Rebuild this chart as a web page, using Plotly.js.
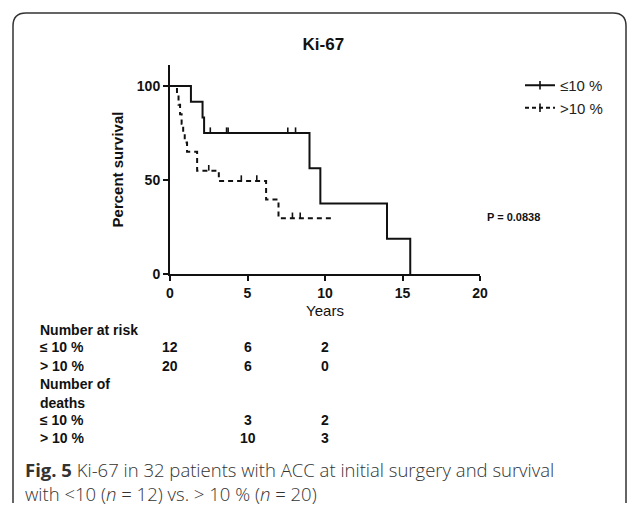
<!DOCTYPE html>
<html>
<head>
<meta charset="utf-8">
<script src="https://cdn.plot.ly/plotly-3.0.1.min.js"></script>
<style>
html,body{margin:0;padding:0;background:#fff;}
#chart{width:634px;height:512px;}
</style>
</head>
<body>
<div id="chart"></div>
<script>
// ---- data ----
const groupLabels = ['≤10 %', '>10 %'];
const lowTimes = [0, 1.35, 2.1, 2.2, 9.0, 9.7, 14.0, 15.5];
const lowSurv = [100, 91.7, 83.3, 75, 56.25, 37.5, 18.75, 0];
const lowCensorTimes = [2.6, 3.65, 3.75, 7.6, 8.1];
const lowCensorSurv = [75, 75, 75, 75, 75];
const highTimes = [0, 0.45, 0.55, 0.65, 0.75, 0.85, 0.95, 1.1, 1.75, 3.15, 6.2, 7.0, 10.6];
const highSurv = [100, 95, 90, 85, 80, 75, 70, 65, 55, 49.5, 39.6, 29.7, 29.7];
const highCensorTimes = [2.5, 4.6, 5.6, 7.9, 8.4];
const highCensorSurv = [55, 49.5, 49.5, 29.7, 29.7];
const xTicks = [0, 5, 10, 15, 20];
const yTicks = [0, 50, 100];
const riskTimes = [0, 5, 10];
const riskLow = [12, 6, 2];
const riskHigh = [20, 6, 0];
const deathTimes = [5, 10];
const deathsLow = [3, 2];
const deathsHigh = [10, 3];
const tableRowLabels = ['≤ 10 %', '> 10 %'];
const pValueText = 'P = 0.0838';
const captionLine1 = '<b>Fig. 5</b> Ki-67 in 32 patients with ACC at initial surgery and survival';
const captionLine2 = 'with &lt;10 (<i>n</i> = 12) vs. &gt; 10 % (<i>n</i> = 20)';

// ---- layout geometry (pixels) ----
const W = 634, H = 512;
const mL = 170, mR = 154, mT = 65, mB = 238;
const pw = W - mL - mR, ph = H - mT - mB;
const px = x => (x - mL) / pw;
const py = y => (H - mB - y) / ph;

const black = '#111';
const ARIAL = "Arial, 'Liberation Sans', Helvetica, sans-serif";
const tickFont = {family: ARIAL, size: 14, color: black, weight: 'bold'};
const censorLen = 3; // tick height in % units (style)

function censorTrace(t, s, grp) {
  return {x: t, y: s, type: 'scatter', mode: 'markers', marker: {size: 1, color: 'rgba(0,0,0,0)'},
    error_y: {type: 'data', symmetric: false, array: t.map(() => censorLen), arrayminus: t.map(() => 0),
              color: black, thickness: 1.6, width: 0},
    legendgroup: grp, showlegend: false, hoverinfo: 'skip'};
}

const traces = [
  {x: lowTimes, y: lowSurv, type: 'scatter', mode: 'lines', line: {shape: 'hv', color: black, width: 2},
   name: groupLabels[0], legendgroup: 'a', showlegend: false, hoverinfo: 'skip'},
  censorTrace(lowCensorTimes, lowCensorSurv, 'a'),
  {x: highTimes, y: highSurv, type: 'scatter', mode: 'lines', line: {shape: 'hv', color: black, width: 2, dash: '5px,4px'},
   name: groupLabels[1], legendgroup: 'b', showlegend: false, hoverinfo: 'skip'},
  censorTrace(highCensorTimes, highCensorSurv, 'b'),
  // legend entries
  {x: [null], y: [null], type: 'scatter', mode: 'lines+markers', name: groupLabels[0], legendgroup: 'a',
   line: {color: black, width: 2}, marker: {symbol: 'line-ns', size: 6, line: {color: black, width: 1.6}}},
  {x: [null], y: [null], type: 'scatter', mode: 'lines+markers', name: groupLabels[1], legendgroup: 'b',
   line: {color: black, width: 2, dash: '4px,3px'}, marker: {symbol: 'line-ns', size: 6, line: {color: black, width: 1.6}}}
];

const ann = [];
const tf = {family: ARIAL, size: 14, color: black};
function txt(text, x, y, opts) {
  ann.push(Object.assign({text: text, x: px(x), y: py(y), xref: 'paper', yref: 'paper', showarrow: false,
    xanchor: 'left', yanchor: 'middle', font: tf}, opts || {}));
}
// P value
txt('<b>' + pValueText + '</b>', 485, 217, {font: {family: ARIAL, size: 11, color: black}});
// Number at risk table
txt('<b>Number at risk</b>', 38, 330);
txt('<b>' + tableRowLabels[0] + '</b>', 38, 347);
txt('<b>' + tableRowLabels[1] + '</b>', 38, 366);
riskTimes.forEach((t, i) => {
  ann.push({text: '<b>' + riskLow[i] + '</b>', x: t, xref: 'x', y: py(347), yref: 'paper', showarrow: false, xanchor: 'center', yanchor: 'middle', font: tf});
  ann.push({text: '<b>' + riskHigh[i] + '</b>', x: t, xref: 'x', y: py(366), yref: 'paper', showarrow: false, xanchor: 'center', yanchor: 'middle', font: tf});
});
txt('<b>Number of</b>', 38, 384);
txt('<b>deaths</b>', 38, 403);
txt('<b>' + tableRowLabels[0] + '</b>', 38, 420);
txt('<b>' + tableRowLabels[1] + '</b>', 38, 438);
deathTimes.forEach((t, i) => {
  ann.push({text: '<b>' + deathsLow[i] + '</b>', x: t, xref: 'x', y: py(420), yref: 'paper', showarrow: false, xanchor: 'center', yanchor: 'middle', font: tf});
  ann.push({text: '<b>' + deathsHigh[i] + '</b>', x: t, xref: 'x', y: py(438), yref: 'paper', showarrow: false, xanchor: 'center', yanchor: 'middle', font: tf});
});
// caption (one text block, two lines)
const capFont = {family: "'Open Sans', 'Noto Sans', sans-serif", size: 18.5, color: '#333', weight: 300};
txt(captionLine1 + '<br>' + captionLine2, 23, 481, {font: capFont, align: 'left'});

// rounded frame
const fx0 = 13, fy0 = 13, fx1 = 626, fy1 = 516, r = 13;
const X = v => px(v), Y = v => py(v);
const framePath = `M ${X(fx0)},${Y(fy1 - r)} L ${X(fx0)},${Y(fy0 + r)} Q ${X(fx0)},${Y(fy0)} ${X(fx0 + r)},${Y(fy0)} ` +
  `L ${X(fx1 - r)},${Y(fy0)} Q ${X(fx1)},${Y(fy0)} ${X(fx1)},${Y(fy0 + r)} L ${X(fx1)},${Y(fy1 - r)}`;

const layout = {
  width: W, height: H,
  margin: {l: mL, r: mR, t: mT, b: mB},
  paper_bgcolor: '#fff', plot_bgcolor: 'rgba(0,0,0,0)',
  font: {family: ARIAL, color: black},
  title: {text: '<b>Ki-67</b>', font: {family: ARIAL, size: 17, color: black},
          x: 0.51, xanchor: 'center', y: 1 - 44 / H, yanchor: 'middle'},
  xaxis: {range: [0, 20], tickvals: xTicks, ticks: 'outside', ticklen: 5, tickwidth: 2, tickcolor: black,
          showline: true, linecolor: black, linewidth: 2, showgrid: false, zeroline: false,
          tickfont: tickFont, ticklabelstandoff: 0,
          title: {text: 'Years', font: {family: ARIAL, size: 15, color: black}, standoff: 6}},
  yaxis: {range: [0, 111.2], tickvals: yTicks, ticks: 'outside', ticklen: 5, tickwidth: 2, tickcolor: black,
          showline: true, linecolor: black, linewidth: 2, showgrid: false, zeroline: false,
          tickfont: tickFont,
          title: {text: '<b>Percent survival</b>', font: {family: ARIAL, size: 15, color: black}, standoff: 10}},
  legend: {x: px(520), y: py(69), xanchor: 'left', yanchor: 'top', bgcolor: 'rgba(0,0,0,0)',
           font: {family: ARIAL, size: 15, color: '#222'},
           traceorder: 'normal', itemwidth: 30},
  annotations: ann,
  shapes: [{type: 'path', path: framePath, xref: 'paper', yref: 'paper', line: {color: '#333', width: 1.5}, layer: 'below'}],
  showlegend: true
};

Plotly.newPlot('chart', traces, layout, {displayModeBar: false, staticPlot: true});
</script>
</body>
</html>
